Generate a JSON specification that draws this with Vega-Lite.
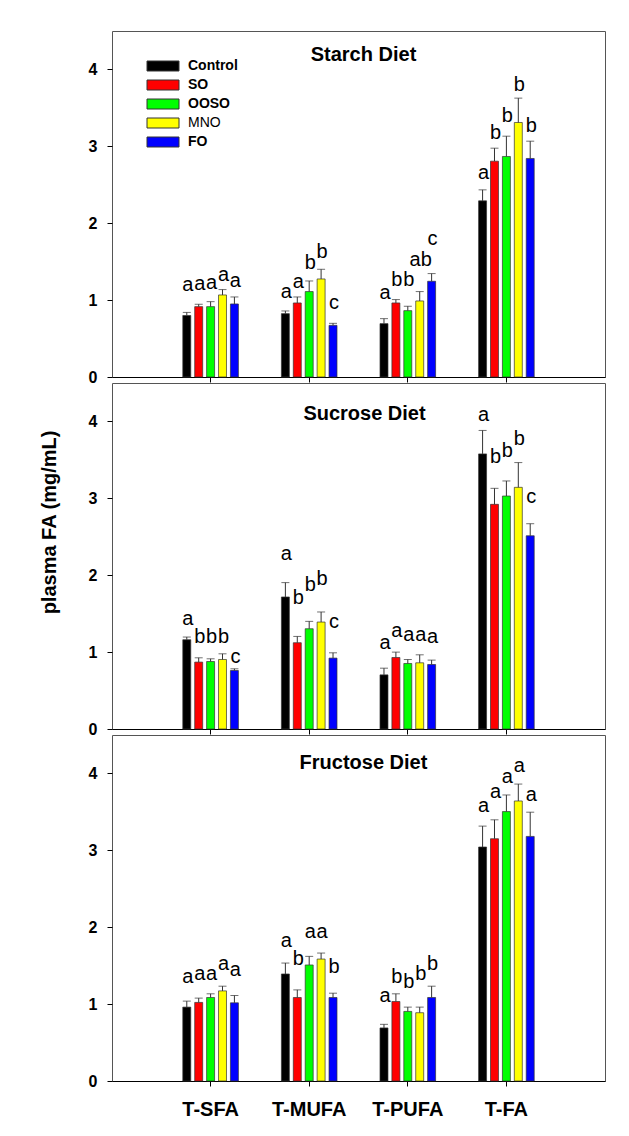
{
  "$schema": "https://vega.github.io/schema/vega-lite/v6.json",
  "padding": {"left": 38, "top": 30, "right": 20, "bottom": 10},
  "bounds": "flush",
  "spacing": 6,
  "background": "white",
  "datasets": {
    "fa": [
      {"diet": "Starch", "cat": "T-SFA", "group": "Control", "mean": 0.80, "upper": 0.84, "sig": "a", "sig_y": 1.12},
      {"diet": "Starch", "cat": "T-SFA", "group": "SO", "mean": 0.915, "upper": 0.946, "sig": "a", "sig_y": 1.13},
      {"diet": "Starch", "cat": "T-SFA", "group": "OOSO", "mean": 0.915, "upper": 0.98, "sig": "a", "sig_y": 1.14},
      {"diet": "Starch", "cat": "T-SFA", "group": "MNO", "mean": 1.067, "upper": 1.137, "sig": "a", "sig_y": 1.25},
      {"diet": "Starch", "cat": "T-SFA", "group": "FO", "mean": 0.95, "upper": 1.041, "sig": "a", "sig_y": 1.17},
      {"diet": "Starch", "cat": "T-MUFA", "group": "Control", "mean": 0.824, "upper": 0.859, "sig": "a", "sig_y": 1.03},
      {"diet": "Starch", "cat": "T-MUFA", "group": "SO", "mean": 0.963, "upper": 1.041, "sig": "a", "sig_y": 1.16},
      {"diet": "Starch", "cat": "T-MUFA", "group": "OOSO", "mean": 1.111, "upper": 1.249, "sig": "b", "sig_y": 1.40},
      {"diet": "Starch", "cat": "T-MUFA", "group": "MNO", "mean": 1.275, "upper": 1.401, "sig": "b", "sig_y": 1.55},
      {"diet": "Starch", "cat": "T-MUFA", "group": "FO", "mean": 0.672, "upper": 0.698, "sig": "c", "sig_y": 0.88},
      {"diet": "Starch", "cat": "T-PUFA", "group": "Control", "mean": 0.694, "upper": 0.759, "sig": "a", "sig_y": 1.01},
      {"diet": "Starch", "cat": "T-PUFA", "group": "SO", "mean": 0.963, "upper": 1.007, "sig": "b", "sig_y": 1.18},
      {"diet": "Starch", "cat": "T-PUFA", "group": "OOSO", "mean": 0.863, "upper": 0.92, "sig": "b", "sig_y": 1.18},
      {"diet": "Starch", "cat": "T-PUFA", "group": "MNO", "mean": 0.989, "upper": 1.111, "sig": "ab", "sig_y": 1.45},
      {"diet": "Starch", "cat": "T-PUFA", "group": "FO", "mean": 1.245, "upper": 1.345, "sig": "c", "sig_y": 1.72},
      {"diet": "Starch", "cat": "T-FA", "group": "Control", "mean": 2.291, "upper": 2.434, "sig": "a", "sig_y": 2.57},
      {"diet": "Starch", "cat": "T-FA", "group": "SO", "mean": 2.807, "upper": 2.976, "sig": "b", "sig_y": 3.09},
      {"diet": "Starch", "cat": "T-FA", "group": "OOSO", "mean": 2.868, "upper": 3.132, "sig": "b", "sig_y": 3.32},
      {"diet": "Starch", "cat": "T-FA", "group": "MNO", "mean": 3.31, "upper": 3.627, "sig": "b", "sig_y": 3.72},
      {"diet": "Starch", "cat": "T-FA", "group": "FO", "mean": 2.842, "upper": 3.067, "sig": "b", "sig_y": 3.18},
      {"diet": "Sucrose", "cat": "T-SFA", "group": "Control", "mean": 1.161, "upper": 1.196, "sig": "a", "sig_y": 1.35},
      {"diet": "Sucrose", "cat": "T-SFA", "group": "SO", "mean": 0.87, "upper": 0.926, "sig": "b", "sig_y": 1.12},
      {"diet": "Sucrose", "cat": "T-SFA", "group": "OOSO", "mean": 0.878, "upper": 0.913, "sig": "b", "sig_y": 1.12},
      {"diet": "Sucrose", "cat": "T-SFA", "group": "MNO", "mean": 0.904, "upper": 0.978, "sig": "b", "sig_y": 1.12},
      {"diet": "Sucrose", "cat": "T-SFA", "group": "FO", "mean": 0.761, "upper": 0.783, "sig": "c", "sig_y": 0.86},
      {"diet": "Sucrose", "cat": "T-MUFA", "group": "Control", "mean": 1.717, "upper": 1.904, "sig": "a", "sig_y": 2.20},
      {"diet": "Sucrose", "cat": "T-MUFA", "group": "SO", "mean": 1.122, "upper": 1.204, "sig": "b", "sig_y": 1.63},
      {"diet": "Sucrose", "cat": "T-MUFA", "group": "OOSO", "mean": 1.304, "upper": 1.40, "sig": "b", "sig_y": 1.80},
      {"diet": "Sucrose", "cat": "T-MUFA", "group": "MNO", "mean": 1.391, "upper": 1.522, "sig": "b", "sig_y": 1.87},
      {"diet": "Sucrose", "cat": "T-MUFA", "group": "FO", "mean": 0.922, "upper": 0.991, "sig": "c", "sig_y": 1.31},
      {"diet": "Sucrose", "cat": "T-PUFA", "group": "Control", "mean": 0.704, "upper": 0.791, "sig": "a", "sig_y": 1.04},
      {"diet": "Sucrose", "cat": "T-PUFA", "group": "SO", "mean": 0.93, "upper": 1.0, "sig": "a", "sig_y": 1.20},
      {"diet": "Sucrose", "cat": "T-PUFA", "group": "OOSO", "mean": 0.852, "upper": 0.904, "sig": "a", "sig_y": 1.15},
      {"diet": "Sucrose", "cat": "T-PUFA", "group": "MNO", "mean": 0.861, "upper": 0.965, "sig": "a", "sig_y": 1.15},
      {"diet": "Sucrose", "cat": "T-PUFA", "group": "FO", "mean": 0.839, "upper": 0.896, "sig": "a", "sig_y": 1.12},
      {"diet": "Sucrose", "cat": "T-FA", "group": "Control", "mean": 3.578, "upper": 3.883, "sig": "a", "sig_y": 4.01},
      {"diet": "Sucrose", "cat": "T-FA", "group": "SO", "mean": 2.922, "upper": 3.13, "sig": "b", "sig_y": 3.46},
      {"diet": "Sucrose", "cat": "T-FA", "group": "OOSO", "mean": 3.03, "upper": 3.226, "sig": "b", "sig_y": 3.54},
      {"diet": "Sucrose", "cat": "T-FA", "group": "MNO", "mean": 3.143, "upper": 3.465, "sig": "b", "sig_y": 3.70},
      {"diet": "Sucrose", "cat": "T-FA", "group": "FO", "mean": 2.513, "upper": 2.67, "sig": "c", "sig_y": 2.94},
      {"diet": "Fructose", "cat": "T-SFA", "group": "Control", "mean": 0.961, "upper": 1.039, "sig": "a", "sig_y": 1.28},
      {"diet": "Fructose", "cat": "T-SFA", "group": "SO", "mean": 1.022, "upper": 1.078, "sig": "a", "sig_y": 1.32},
      {"diet": "Fructose", "cat": "T-SFA", "group": "OOSO", "mean": 1.086, "upper": 1.134, "sig": "a", "sig_y": 1.32},
      {"diet": "Fructose", "cat": "T-SFA", "group": "MNO", "mean": 1.172, "upper": 1.233, "sig": "a", "sig_y": 1.44},
      {"diet": "Fructose", "cat": "T-SFA", "group": "FO", "mean": 1.017, "upper": 1.112, "sig": "a", "sig_y": 1.36},
      {"diet": "Fructose", "cat": "T-MUFA", "group": "Control", "mean": 1.392, "upper": 1.534, "sig": "a", "sig_y": 1.74},
      {"diet": "Fructose", "cat": "T-MUFA", "group": "SO", "mean": 1.086, "upper": 1.185, "sig": "b", "sig_y": 1.51},
      {"diet": "Fructose", "cat": "T-MUFA", "group": "OOSO", "mean": 1.509, "upper": 1.621, "sig": "a", "sig_y": 1.86},
      {"diet": "Fructose", "cat": "T-MUFA", "group": "MNO", "mean": 1.586, "upper": 1.664, "sig": "a", "sig_y": 1.86},
      {"diet": "Fructose", "cat": "T-MUFA", "group": "FO", "mean": 1.086, "upper": 1.142, "sig": "b", "sig_y": 1.40},
      {"diet": "Fructose", "cat": "T-PUFA", "group": "Control", "mean": 0.69, "upper": 0.737, "sig": "a", "sig_y": 1.03},
      {"diet": "Fructose", "cat": "T-PUFA", "group": "SO", "mean": 1.034, "upper": 1.134, "sig": "b", "sig_y": 1.27},
      {"diet": "Fructose", "cat": "T-PUFA", "group": "OOSO", "mean": 0.905, "upper": 0.961, "sig": "b", "sig_y": 1.21},
      {"diet": "Fructose", "cat": "T-PUFA", "group": "MNO", "mean": 0.888, "upper": 0.961, "sig": "b", "sig_y": 1.32},
      {"diet": "Fructose", "cat": "T-PUFA", "group": "FO", "mean": 1.086, "upper": 1.233, "sig": "b", "sig_y": 1.44},
      {"diet": "Fructose", "cat": "T-FA", "group": "Control", "mean": 3.043, "upper": 3.315, "sig": "a", "sig_y": 3.50},
      {"diet": "Fructose", "cat": "T-FA", "group": "SO", "mean": 3.151, "upper": 3.397, "sig": "a", "sig_y": 3.68},
      {"diet": "Fructose", "cat": "T-FA", "group": "OOSO", "mean": 3.504, "upper": 3.72, "sig": "a", "sig_y": 3.87},
      {"diet": "Fructose", "cat": "T-FA", "group": "MNO", "mean": 3.642, "upper": 3.862, "sig": "a", "sig_y": 4.02},
      {"diet": "Fructose", "cat": "T-FA", "group": "FO", "mean": 3.181, "upper": 3.496, "sig": "a", "sig_y": 3.64}
    ]
  },
  "data": {"name": "fa"},
  "resolve": {"legend": {"color": "independent"}},
  "vconcat": [
    {
      "title": {"text": "Starch Diet", "fontSize": 20, "fontWeight": "bold", "offset": -50, "dx": 5, "baseline": "alphabetic", "anchor": "middle", "frame": "group", "color": "#000"},
      "width": 493, "height": 346,
      "transform": [{"filter": "datum.diet === 'Starch'"}],
      "encoding": {
        "x": {"field": "cat", "type": "nominal", "sort": ["T-SFA", "T-MUFA", "T-PUFA", "T-FA"], "scale": {"paddingInner": 0.436, "paddingOuter": 0.718}, "axis": {"title": null, "labels": false}},
        "xOffset": {"field": "group", "type": "nominal", "sort": ["Control", "SO", "OOSO", "MNO", "FO"], "scale": {"paddingInner": 0.33, "paddingOuter": 0}}
      },
      "layer": [
        {"mark": {"type": "bar", "stroke": "#333", "strokeWidth": 0.7},
         "encoding": {
           "y": {"field": "mean", "type": "quantitative", "scale": {"domain": [0, 4.5], "nice": false}, "axis": {"title": null, "values": [0, 1, 2, 3, 4]}},
           "color": {"field": "group", "type": "nominal", "sort": ["Control", "SO", "OOSO", "MNO", "FO"],
             "scale": {"domain": ["Control", "SO", "OOSO", "MNO", "FO"], "range": ["#000000", "#FF0000", "#00FF00", "#FFFF00", "#0000FF"]},
             "legend": {"orient": "none", "legendX": 33, "legendY": 28, "title": null, "symbolType": "M-1,-1H5.4V1H-1Z", "symbolSize": 100, "symbolStrokeColor": "#333", "symbolStrokeWidth": 1, "labelFontSize": 14, "labelFontWeight": {"expr": "datum.label === 'MNO' ? 'normal' : 'bold'"}, "labelOffset": 29, "rowPadding": 5, "padding": 0, "labelColor": "#000"}}
         }},
        {"mark": {"type": "rule", "color": "#333", "strokeWidth": 1},
         "encoding": {"y": {"field": "mean", "type": "quantitative", "axis": {"title": null, "values": [0, 1, 2, 3, 4]}}, "y2": {"field": "upper"}}},
        {"mark": {"type": "tick", "orient": "horizontal", "size": 8, "thickness": 1, "color": "#333"},
         "encoding": {"y": {"field": "upper", "type": "quantitative", "axis": {"title": null, "values": [0, 1, 2, 3, 4]}}}},
        {"mark": {"type": "text", "baseline": "alphabetic", "fontSize": 20, "color": "#000", "dx": 1},
         "encoding": {"y": {"field": "sig_y", "type": "quantitative", "axis": {"title": null, "values": [0, 1, 2, 3, 4]}}, "text": {"field": "sig"}}}
      ]
    },
    {
      "title": {"text": "Sucrose Diet", "fontSize": 20, "fontWeight": "bold", "offset": -57, "dx": 6, "baseline": "alphabetic", "anchor": "middle", "frame": "group", "color": "#000"},
      "width": 493, "height": 346,
      "transform": [{"filter": "datum.diet === 'Sucrose'"}],
      "encoding": {
        "x": {"field": "cat", "type": "nominal", "sort": ["T-SFA", "T-MUFA", "T-PUFA", "T-FA"], "scale": {"paddingInner": 0.436, "paddingOuter": 0.718}, "axis": {"title": null, "labels": false}},
        "xOffset": {"field": "group", "type": "nominal", "sort": ["Control", "SO", "OOSO", "MNO", "FO"], "scale": {"paddingInner": 0.33, "paddingOuter": 0}}
      },
      "layer": [
        {"mark": {"type": "bar", "stroke": "#333", "strokeWidth": 0.7},
         "encoding": {
           "y": {"field": "mean", "type": "quantitative", "scale": {"domain": [0, 4.5], "nice": false}, "axis": {"title": "plasma FA (mg/mL)", "values": [0, 1, 2, 3, 4], "titleFontSize": 20, "titleFontWeight": "bold", "titleX": -63, "titleY": 139, "titleAngle": 270, "titleAlign": "center", "titleBaseline": "middle"}},
           "color": {"field": "group", "type": "nominal", "sort": ["Control", "SO", "OOSO", "MNO", "FO"],
             "scale": {"domain": ["Control", "SO", "OOSO", "MNO", "FO"], "range": ["#000000", "#FF0000", "#00FF00", "#FFFF00", "#0000FF"]},
             "legend": null}
         }},
        {"mark": {"type": "rule", "color": "#333", "strokeWidth": 1},
         "encoding": {"y": {"field": "mean", "type": "quantitative", "axis": {"title": "plasma FA (mg/mL)", "values": [0, 1, 2, 3, 4], "titleFontSize": 20, "titleFontWeight": "bold", "titleX": -63, "titleY": 139, "titleAngle": 270, "titleAlign": "center", "titleBaseline": "middle"}}, "y2": {"field": "upper"}}},
        {"mark": {"type": "tick", "orient": "horizontal", "size": 8, "thickness": 1, "color": "#333"},
         "encoding": {"y": {"field": "upper", "type": "quantitative", "axis": {"title": "plasma FA (mg/mL)", "values": [0, 1, 2, 3, 4], "titleFontSize": 20, "titleFontWeight": "bold", "titleX": -63, "titleY": 139, "titleAngle": 270, "titleAlign": "center", "titleBaseline": "middle"}}}},
        {"mark": {"type": "text", "baseline": "alphabetic", "fontSize": 20, "color": "#000", "dx": 1},
         "encoding": {"y": {"field": "sig_y", "type": "quantitative", "axis": {"title": "plasma FA (mg/mL)", "values": [0, 1, 2, 3, 4], "titleFontSize": 20, "titleFontWeight": "bold", "titleX": -63, "titleY": 139, "titleAngle": 270, "titleAlign": "center", "titleBaseline": "middle"}}, "text": {"field": "sig"}}}
      ]
    },
    {
      "title": {"text": "Fructose Diet", "fontSize": 20, "fontWeight": "bold", "offset": -54, "dx": 5, "baseline": "alphabetic", "anchor": "middle", "frame": "group", "color": "#000"},
      "width": 493, "height": 346,
      "transform": [{"filter": "datum.diet === 'Fructose'"}],
      "encoding": {
        "x": {"field": "cat", "type": "nominal", "sort": ["T-SFA", "T-MUFA", "T-PUFA", "T-FA"], "scale": {"paddingInner": 0.436, "paddingOuter": 0.718}, "axis": {"title": null, "labels": true}},
        "xOffset": {"field": "group", "type": "nominal", "sort": ["Control", "SO", "OOSO", "MNO", "FO"], "scale": {"paddingInner": 0.33, "paddingOuter": 0}}
      },
      "layer": [
        {"mark": {"type": "bar", "stroke": "#333", "strokeWidth": 0.7},
         "encoding": {
           "y": {"field": "mean", "type": "quantitative", "scale": {"domain": [0, 4.5], "nice": false}, "axis": {"title": null, "values": [0, 1, 2, 3, 4]}},
           "color": {"field": "group", "type": "nominal", "sort": ["Control", "SO", "OOSO", "MNO", "FO"],
             "scale": {"domain": ["Control", "SO", "OOSO", "MNO", "FO"], "range": ["#000000", "#FF0000", "#00FF00", "#FFFF00", "#0000FF"]},
             "legend": null}
         }},
        {"mark": {"type": "rule", "color": "#333", "strokeWidth": 1},
         "encoding": {"y": {"field": "mean", "type": "quantitative", "axis": {"title": null, "values": [0, 1, 2, 3, 4]}}, "y2": {"field": "upper"}}},
        {"mark": {"type": "tick", "orient": "horizontal", "size": 8, "thickness": 1, "color": "#333"},
         "encoding": {"y": {"field": "upper", "type": "quantitative", "axis": {"title": null, "values": [0, 1, 2, 3, 4]}}}},
        {"mark": {"type": "text", "baseline": "alphabetic", "fontSize": 20, "color": "#000", "dx": 1},
         "encoding": {"y": {"field": "sig_y", "type": "quantitative", "axis": {"title": null, "values": [0, 1, 2, 3, 4]}}, "text": {"field": "sig"}}}
      ]
    }
  ],
  "config": {
    "font": "Liberation Sans",
    "view": {"stroke": "#555", "strokeWidth": 1},
    "title": {"font": "Liberation Sans"},
    "text": {"font": "Liberation Sans"},
    "legend": {"labelFont": "Liberation Sans"},
    "axis": {"grid": false, "tickColor": "#000", "domainColor": "#000", "labelColor": "#000", "titleColor": "#000", "labelFont": "Liberation Sans", "titleFont": "Liberation Sans"},
    "axisX": {"tickSize": 5, "domainWidth": 1.2, "labelFontSize": 20, "labelFontWeight": "bold", "labelPadding": 13, "labelAngle": 0},
    "axisY": {"tickSize": 5, "domain": false, "labelFontSize": 16, "labelFontWeight": "bold", "labelPadding": 10}
  }
}
